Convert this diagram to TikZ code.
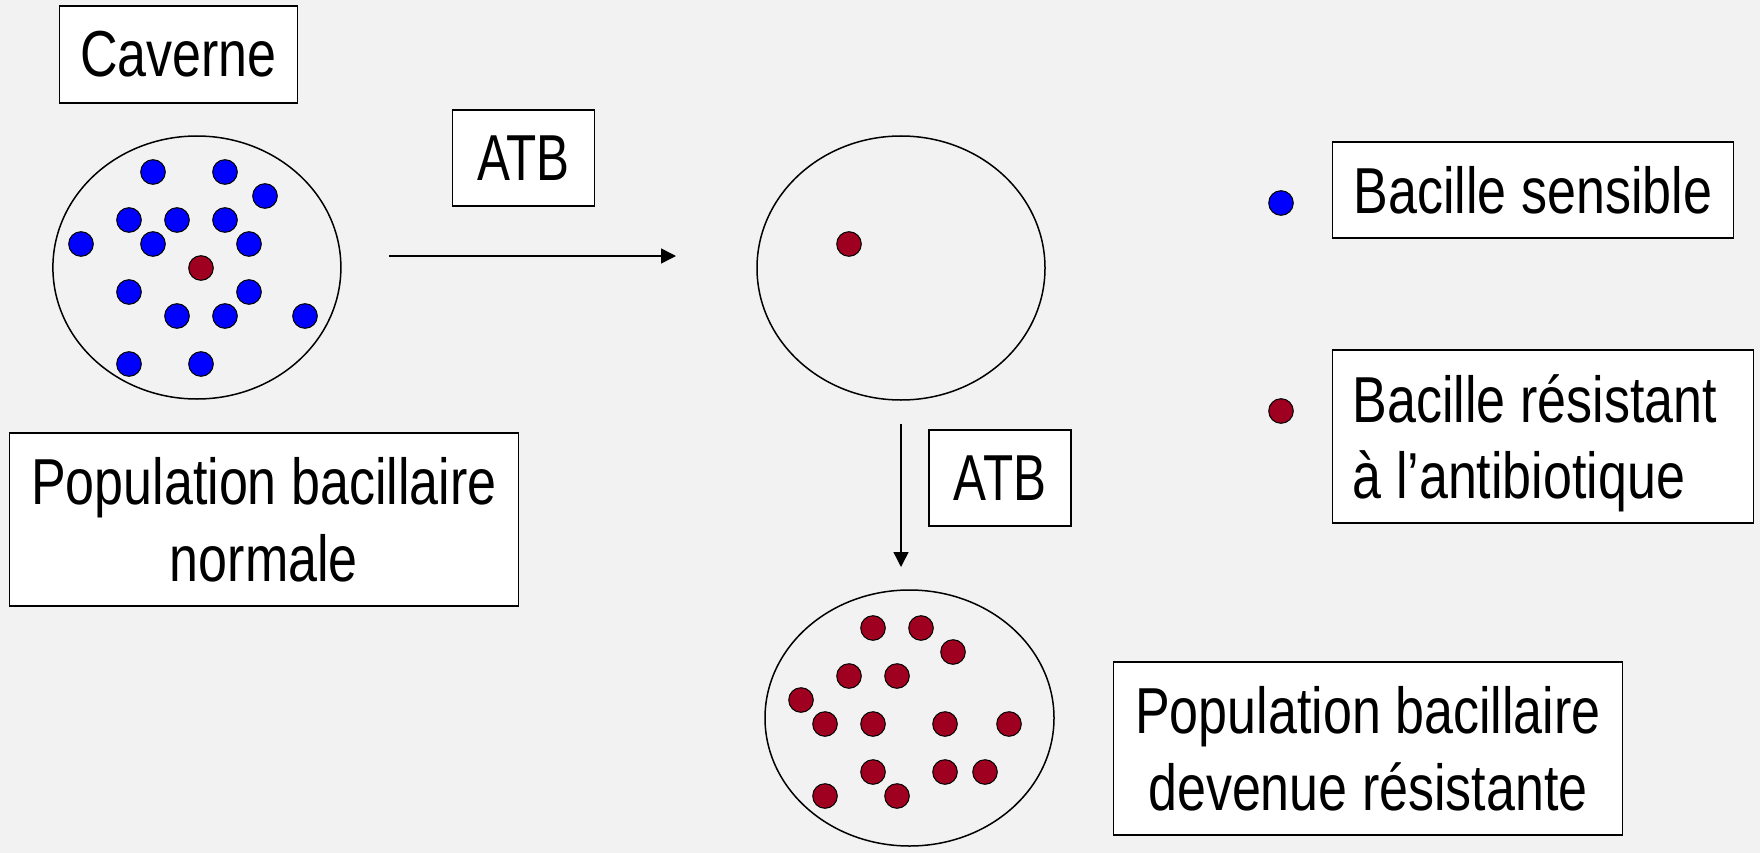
\documentclass[tikz,border=0pt]{standalone}
\usepackage{fontspec}
\setmainfont{Liberation Sans}
\newfontfamily\fA[FakeStretch=0.80]{Liberation Sans}
\newfontfamily\fB[FakeStretch=0.76]{Liberation Sans}
\usetikzlibrary{arrows.meta,shapes.geometric}
\definecolor{bg}{HTML}{F2F2F2}
\definecolor{sens}{HTML}{0000FF}
\definecolor{resi}{RGB}{160,0,32}
\tikzset{
  lbl/.style={draw=black, line width=1.3pt, fill=white, inner sep=0pt, align=center},
  txt/.style={inner sep=0pt, align=left},
  cell/.style={draw=black, line width=1.5pt, ellipse, inner sep=0pt},
  bdot/.style={draw=black, line width=1pt, fill=sens},
  rdot/.style={draw=black, line width=1pt, fill=resi},
  arr/.style={line width=1.5pt, -{Triangle[length=15pt,width=15pt]}},
  big/.style={font=\fontsize{65}{77}\selectfont\fA},
  bigatb/.style={font=\fontsize{65}{77}\selectfont\fB}
}
\begin{document}
\begin{tikzpicture}[x=1pt,y=-1pt]
\useasboundingbox (0,0) rectangle (1760,853);
\fill[bg] (0,0) rectangle (1760,853);

% cells
\node[cell, minimum width=288pt, minimum height=263pt] (cell1) at (196.9,267.5) {};
\node[cell, minimum width=288pt, minimum height=264pt] (cell2) at (901,268) {};
\node[cell, minimum width=289pt, minimum height=256pt] (cell3) at (909.5,718) {};

% dots in first cell
\foreach \x/\y in {153/172,225/172,265/196,129/220,177/220,225/220,81/244,153/244,249/244,129/292,249/292,177/316,225/316,305/316,129/364,201/364}
  \draw[bdot] (\x,\y) circle [radius=12.3];
\draw[rdot] (201,268) circle [radius=12.3];

% dot in second cell
\draw[rdot] (849,244) circle [radius=12.3];

% dots in third cell
\foreach \x/\y in {873/628,921/628,953/652,849/676,897/676,801/700,825/724,873/724,945/724,1009/724,873/772,945/772,985/772,825/796,897/796}
  \draw[rdot] (\x,\y) circle [radius=12.3];

% legend dots
\draw[bdot] (1281,203) circle [radius=12.3];
\draw[rdot] (1281,411) circle [radius=12.3];

% labels
\node[lbl, big, minimum width=238pt, minimum height=97pt] (cav) at (178.3,54.4) {Caverne};
\node[lbl, bigatb, minimum width=142pt, minimum height=96pt] (atb1) at (523.3,158) {ATB};
\node[lbl, bigatb, minimum width=142pt, minimum height=96pt] (atb2) at (1000,478) {ATB};
\node[lbl, big, minimum width=508.6pt, minimum height=173pt] (popn) at (263.9,519.5) {Population bacillaire\\normale};
\node[lbl, big, minimum width=508.8pt, minimum height=173pt] (popr) at (1367.9,748.5) {Population bacillaire\\devenue résistante};
\node[lbl, big, minimum width=401pt, minimum height=96pt] (legs) at (1532.9,190) {Bacille sensible};
\node[lbl, minimum width=421.3pt, minimum height=173pt] (legr) at (1543,436.5) {};
\node[txt, font=\fontsize{65}{76}\selectfont\fA, anchor=north west] (legrt) at (1352.5,374.5) {Bacille résistant\\à l’antibiotique};

% arrows
\coordinate (a1s) at (389.2,256);
\coordinate (a1e) at (676,256);
\draw[arr] (a1s) -- (a1e);
\coordinate (a2s) at (901,424);
\coordinate (a2e) at (901,567);
\draw[arr] (a2s) -- (a2e);
\end{tikzpicture}
\end{document}
